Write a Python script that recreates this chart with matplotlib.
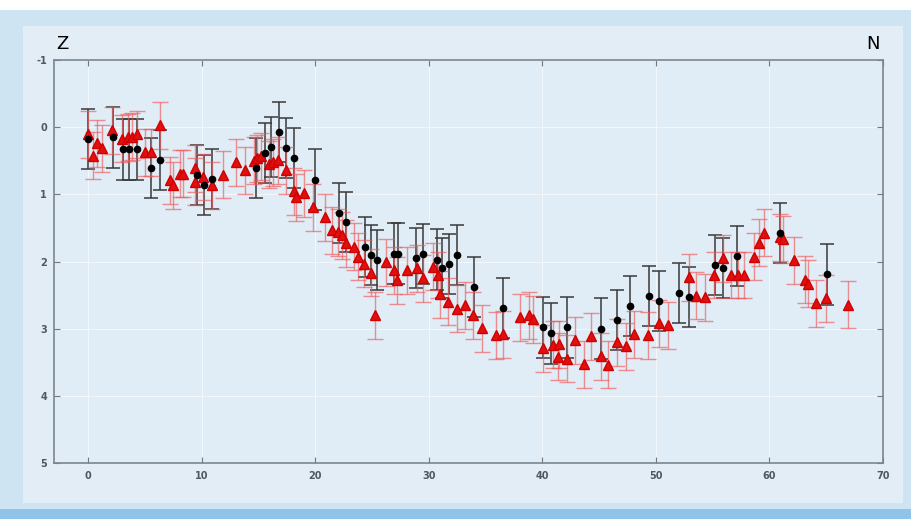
import matplotlib
matplotlib.use("Agg")
import matplotlib.pyplot as plt
from matplotlib.patches import Rectangle
import numpy as np

plt.rcParams["axes.unicode_minus"] = False

# red triangles: position, depth, error
red_x = [0.0, 0.4, 0.8, 1.2, 2.1, 3.0, 3.5, 3.9, 4.3, 5.0, 5.5, 6.3, 7.2, 7.5, 8.1, 8.4,
         9.4, 9.4, 10.1, 10.9, 11.9, 13.0, 13.8, 14.6, 14.9, 15.2, 15.9, 16.3, 16.7, 17.4,
         18.1, 18.3, 19.0, 19.8, 20.9, 21.5, 22.0, 22.4, 22.7, 23.4, 23.8, 24.3, 24.9, 25.3,
         26.2, 26.9, 27.2, 28.1, 29.0, 29.5, 30.4, 30.8, 31.0, 31.7, 32.5, 33.2, 33.9, 34.7,
         35.9, 36.5, 38.0, 38.8, 39.2, 40.1, 40.9, 41.5, 41.4, 42.2, 42.9, 43.7, 44.3, 45.2,
         45.8, 46.6, 47.4, 48.1, 49.3, 50.3, 51.1, 52.9, 53.5, 54.3, 55.1, 55.9, 56.6, 57.2,
         57.8, 58.6, 59.1, 59.5, 60.9, 61.2, 62.2, 63.1, 63.4, 64.1, 65.0, 66.9]
red_y = [0.10, 0.42, 0.24, 0.31, 0.04, 0.17, 0.15, 0.14, 0.10, 0.37, 0.37, -0.03, 0.79, 0.86,
         0.69, 0.69, 0.61, 0.81, 0.74, 0.86, 0.71, 0.52, 0.64, 0.50, 0.46, 0.43, 0.55, 0.52,
         0.49, 0.64, 0.95, 1.04, 0.98, 1.19, 1.34, 1.53, 1.56, 1.61, 1.73, 1.78, 1.93, 2.03,
         2.17, 2.80, 2.01, 2.13, 2.28, 2.13, 2.10, 2.25, 2.08, 2.20, 2.49, 2.60, 2.70, 2.65,
         2.80, 2.99, 3.10, 3.08, 2.83, 2.80, 2.86, 3.29, 3.24, 3.23, 3.42, 3.45, 3.17, 3.53,
         3.11, 3.41, 3.54, 3.20, 3.26, 3.08, 3.10, 2.92, 2.95, 2.23, 2.51, 2.53, 2.20, 1.95,
         2.20, 2.20, 2.20, 1.93, 1.72, 1.57, 1.64, 1.67, 1.98, 2.27, 2.33, 2.62, 2.55, 2.64]
red_err = [0.35] * len(red_x)

# black dots
blk_x = [0.0, 2.2, 3.1, 3.6, 4.3, 5.5, 6.3, 9.6, 10.2, 10.9, 14.8, 15.6, 16.1, 16.8, 17.4,
         18.1, 20.0, 22.1, 22.7, 24.4, 24.9, 25.4, 26.9, 27.3, 28.9, 29.5, 30.7, 31.2, 31.8,
         32.5, 34.0, 36.5, 40.1, 40.8, 42.2, 45.2, 46.6, 47.7, 49.4, 50.3, 52.0, 52.9, 55.2,
         55.9, 57.1, 60.9, 65.1]
blk_y = [0.17, 0.15, 0.33, 0.33, 0.33, 0.61, 0.49, 0.71, 0.86, 0.77, 0.61, 0.38, 0.29, 0.07,
         0.31, 0.46, 0.78, 1.28, 1.41, 1.78, 1.90, 1.98, 1.88, 1.88, 1.95, 1.89, 1.97, 2.10,
         2.04, 1.90, 2.38, 2.69, 2.98, 3.07, 2.98, 3.00, 2.87, 2.66, 2.51, 2.59, 2.47, 2.53,
         2.05, 2.10, 1.92, 1.57, 2.19]
blk_err = [0.45] * len(blk_x)

fig = plt.figure(figsize=(9.12, 5.19), dpi=100)
fig.patch.set_facecolor("white")
# blue mount behind the plot
fig.add_artist(Rectangle((0, 0), 1, 0.98, transform=fig.transFigure,
                         facecolor="#cfe4f3", edgecolor="none", zorder=-3))
fig.add_artist(Rectangle((0.025, 0.03), 0.965, 0.92, transform=fig.transFigure,
                         facecolor="#e2edf6", edgecolor="none", zorder=-2))
fig.add_artist(Rectangle((0, 0), 1, 0.02, transform=fig.transFigure,
                         facecolor="#8fc4e8", edgecolor="none", zorder=-1))

ax = fig.add_axes([0.0592, 0.108, 0.909, 0.776])
ax.set_facecolor("#e0ecf6")

ax.errorbar(blk_x, blk_y, yerr=blk_err, fmt="none", ecolor="#3a3a3a", elinewidth=1.1,
            capsize=5, capthick=1.1, zorder=2)
ax.errorbar(red_x, red_y, yerr=red_err, fmt="none", ecolor="#ee5a5a", elinewidth=1.0,
            capsize=5.5, capthick=1.0, alpha=0.65, zorder=3)
ax.plot(red_x, red_y, "^", color="#e01010", markersize=7.5, markeredgecolor="#d00000",
        zorder=4)
ax.plot(blk_x, blk_y, "o", color="black", markersize=4.5, zorder=5)

ax.set_xlim(-3, 70)
ax.set_ylim(5, -1)
ax.set_xticks(np.arange(0, 71, 10))
ax.set_yticks(np.arange(-1, 6, 1))
ax.grid(True, color="#f2f7fb", linewidth=0.8)
ax.set_axisbelow(True)
ax.tick_params(direction="in", length=4, top=True, right=True, color="#707880",
               labelsize=7, labelcolor="#505860", pad=6)
ax.tick_params(axis="y", pad=5)
for lab in ax.get_xticklabels() + ax.get_yticklabels():
    lab.set_fontweight("bold")
for s in ax.spines.values():
    s.set_color("#7a8590")
    s.set_linewidth(1.2)

fig.text(0.062, 0.905, "Z", fontsize=13, color="black")
fig.text(0.950, 0.905, "N", fontsize=13, color="black")

fig.savefig("out.png", dpi=100, facecolor=fig.get_facecolor())
